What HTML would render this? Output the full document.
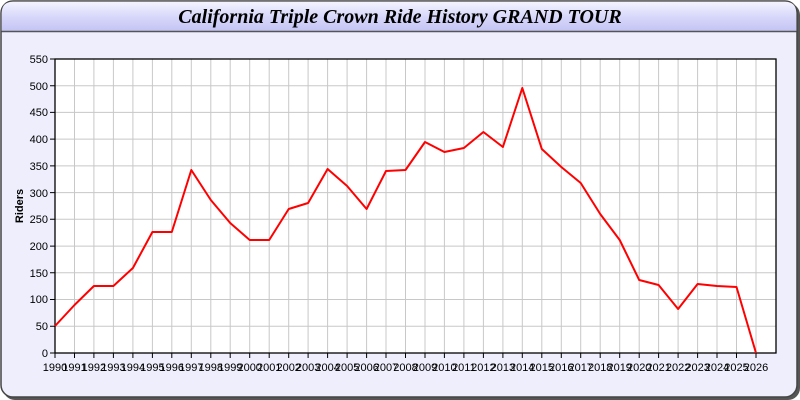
<!DOCTYPE html>
<html><head><style>
html,body{margin:0;padding:0;background:#fff;}
svg{display:block;}
</style></head><body>
<svg width="800" height="400" xmlns="http://www.w3.org/2000/svg">
<defs>
<linearGradient id="tb" x1="0" y1="0" x2="0" y2="1">
<stop offset="0" stop-color="#f4f4ff"/><stop offset="0.5" stop-color="#d8d8fa"/><stop offset="1" stop-color="#c4c4f4"/>
</linearGradient>
</defs>
<rect x="3" y="3" width="797" height="397" rx="12" fill="#555"/>
<rect x="1" y="1" width="796" height="396" rx="12" fill="#eeeefc" stroke="#444" stroke-width="1.5"/>
<path d="M1.75,31 L1.75,13 Q1.75,1.75 13,1.75 L785,1.75 Q796.25,1.75 796.25,13 L796.25,31 Z" fill="url(#tb)"/>
<line x1="1.5" y1="31.5" x2="796.5" y2="31.5" stroke="#555" stroke-width="1.5"/>
<text x="400" y="23" text-anchor="middle" font-family="Liberation Serif, serif" font-style="italic" font-weight="bold" font-size="20" fill="#000">California Triple Crown Ride History GRAND TOUR</text>
<rect x="55" y="59" width="721" height="294" fill="#fff"/>
<g stroke="#c8c8c8" stroke-width="1">
<path d="M74.5 59V353M93.9 59V353M113.4 59V353M132.9 59V353M152.4 59V353M171.8 59V353M191.3 59V353M210.8 59V353M230.2 59V353M249.7 59V353M269.2 59V353M288.7 59V353M308.1 59V353M327.6 59V353M347.1 59V353M366.6 59V353M386 59V353M405.5 59V353M425 59V353M444.4 59V353M463.9 59V353M483.4 59V353M502.9 59V353M522.3 59V353M541.8 59V353M561.3 59V353M580.7 59V353M600.2 59V353M619.7 59V353M639.2 59V353M658.6 59V353M678.1 59V353M697.6 59V353M717 59V353M736.5 59V353M756 59V353"/>
<path d="M55 326.3H776M55 299.5H776M55 272.8H776M55 246.1H776M55 219.3H776M55 192.6H776M55 165.9H776M55 139.1H776M55 112.4H776M55 85.7H776"/>
</g>
<rect x="55" y="59" width="721" height="294" fill="none" stroke="#000" stroke-width="1.3"/>
<g stroke="#000" stroke-width="1">
<path d="M50 353H55M50 326.3H55M50 299.5H55M50 272.8H55M50 246.1H55M50 219.3H55M50 192.6H55M50 165.9H55M50 139.1H55M50 112.4H55M50 85.7H55M50 59H55"/>
<path d="M55 353V358M74.5 353V358M93.9 353V358M113.4 353V358M132.9 353V358M152.4 353V358M171.8 353V358M191.3 353V358M210.8 353V358M230.2 353V358M249.7 353V358M269.2 353V358M288.7 353V358M308.1 353V358M327.6 353V358M347.1 353V358M366.6 353V358M386 353V358M405.5 353V358M425 353V358M444.4 353V358M463.9 353V358M483.4 353V358M502.9 353V358M522.3 353V358M541.8 353V358M561.3 353V358M580.7 353V358M600.2 353V358M619.7 353V358M639.2 353V358M658.6 353V358M678.1 353V358M697.6 353V358M717 353V358M736.5 353V358M756 353V358"/>
</g>
<g font-family="Liberation Sans, sans-serif" font-size="11" fill="#000" text-anchor="end">
<text x="48" y="357">0</text><text x="48" y="330">50</text><text x="48" y="303">100</text><text x="48" y="277">150</text><text x="48" y="250">200</text><text x="48" y="223">250</text><text x="48" y="197">300</text><text x="48" y="170">350</text><text x="48" y="143">400</text><text x="48" y="116">450</text><text x="48" y="90">500</text><text x="48" y="63">550</text>
</g>
<text x="23" y="206" transform="rotate(-90 23 206)" text-anchor="middle" font-family="Liberation Sans, sans-serif" font-size="11" font-weight="bold">Riders</text>
<g font-family="Liberation Sans, sans-serif" font-size="11" fill="#000" text-anchor="middle">
<text x="55" y="371">1990</text><text x="74.5" y="371">1991</text><text x="93.9" y="371">1992</text><text x="113.4" y="371">1993</text><text x="132.9" y="371">1994</text><text x="152.4" y="371">1995</text><text x="171.8" y="371">1996</text><text x="191.3" y="371">1997</text><text x="210.8" y="371">1998</text><text x="230.2" y="371">1999</text><text x="249.7" y="371">2000</text><text x="269.2" y="371">2001</text><text x="288.7" y="371">2002</text><text x="308.1" y="371">2003</text><text x="327.6" y="371">2004</text><text x="347.1" y="371">2005</text><text x="366.6" y="371">2006</text><text x="386" y="371">2007</text><text x="405.5" y="371">2008</text><text x="425" y="371">2009</text><text x="444.4" y="371">2010</text><text x="463.9" y="371">2011</text><text x="483.4" y="371">2012</text><text x="502.9" y="371">2013</text><text x="522.3" y="371">2014</text><text x="541.8" y="371">2015</text><text x="561.3" y="371">2016</text><text x="580.7" y="371">2017</text><text x="600.2" y="371">2018</text><text x="619.7" y="371">2019</text><text x="639.2" y="371">2020</text><text x="658.6" y="371">2021</text><text x="678.1" y="371">2022</text><text x="697.6" y="371">2023</text><text x="717" y="371">2024</text><text x="736.5" y="371">2025</text><text x="756" y="371">2026</text>
</g>
<polyline fill="none" stroke="#f00" stroke-width="2" stroke-linejoin="round" points="55,326 74.5,305 93.9,286 113.4,286 132.9,268 152.4,232 171.8,232 191.3,170 210.8,200 230.2,223 249.7,240 269.2,240 288.7,209 308.1,203 327.6,169 347.1,186 366.6,209 386,171 405.5,170 425,142 444.4,152 463.9,148 483.4,132 502.9,147 522.3,88 541.8,149 561.3,167 580.7,183 600.2,214 619.7,240 639.2,280 658.6,285 678.1,309 697.6,284 717,286 736.5,287 756,353"/>
</svg>
</body></html>
